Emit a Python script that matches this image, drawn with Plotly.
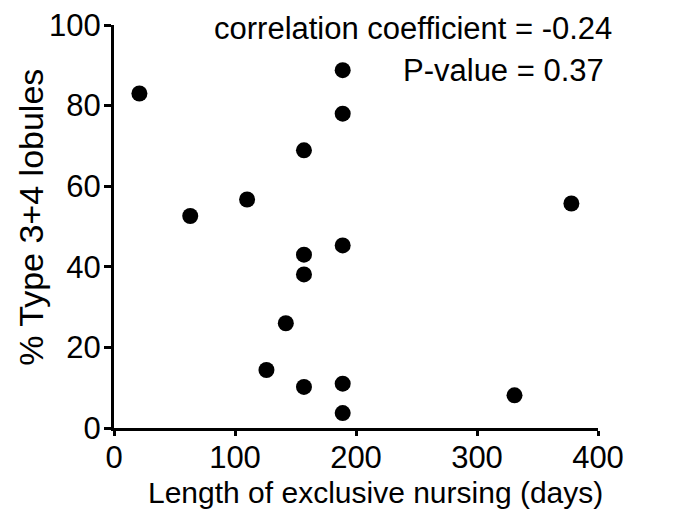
import plotly.graph_objects as go

nursing_days = [21, 63, 110, 126, 142, 157, 157, 157, 157, 189, 189, 189, 189, 189, 331, 378]
type34_pct = [83, 52.6, 56.7, 14.4, 26, 68.9, 43, 38.1, 10.2, 88.8, 78, 45.3, 11, 3.7, 8.1, 55.7]

x_ticks = [0, 100, 200, 300, 400]
y_ticks = [0, 20, 40, 60, 80, 100]

FONT = "Liberation Sans, Arial, sans-serif"

fig = go.Figure()
fig.add_trace(go.Scatter(
    x=nursing_days, y=type34_pct, mode="markers",
    marker=dict(color="black", size=16),
    showlegend=False, cliponaxis=False,
))

axis_common = dict(
    showline=True, linewidth=3, linecolor="black",
    ticks="outside", tickwidth=3, tickcolor="black",
    showgrid=False, zeroline=False,
    tickfont=dict(family=FONT, size=31, color="black"),
)

fig.update_layout(
    width=688, height=515,
    margin=dict(l=114, r=90, t=25, b=87),
    paper_bgcolor="white", plot_bgcolor="white",
    font=dict(family=FONT, color="black"),
    xaxis=dict(range=[0, 400], tickvals=x_ticks, automargin=False,
               ticklen=5, ticklabelstandoff=-5,
               **axis_common),
    yaxis=dict(range=[0, 100], tickvals=y_ticks, automargin=False,
               ticklen=7, ticklabelstandoff=-3,
               **axis_common),
    annotations=[
        dict(text="Length of exclusive nursing (days)", xref="paper", yref="paper",
             x=(375.5 - 114) / 484, y=(428.5 - 493) / 403.5,
             xanchor="center", yanchor="middle", showarrow=False,
             font=dict(family=FONT, size=30, color="black")),
        dict(text="% Type 3+4 lobules", xref="paper", yref="paper",
             x=(31 - 114) / 484, y=(428.5 - 218) / 403.5, textangle=-90,
             xanchor="center", yanchor="middle", showarrow=False,
             font=dict(family=FONT, size=34, color="black")),
        dict(text="correlation coefficient = -0.24", xref="paper", yref="paper",
             x=1.033, y=0.9925, xanchor="right", yanchor="middle", showarrow=False,
             font=dict(family=FONT, size=31, color="black")),
        dict(text="P-value = 0.37", xref="paper", yref="paper",
             x=1.0165, y=0.886, xanchor="right", yanchor="middle", showarrow=False,
             font=dict(family=FONT, size=31, color="black")),
    ],
)

fig.write_html("out.html", config={"displayModeBar": False},
               post_script="document.body.style.margin='0';document.body.style.overflow='hidden';")
